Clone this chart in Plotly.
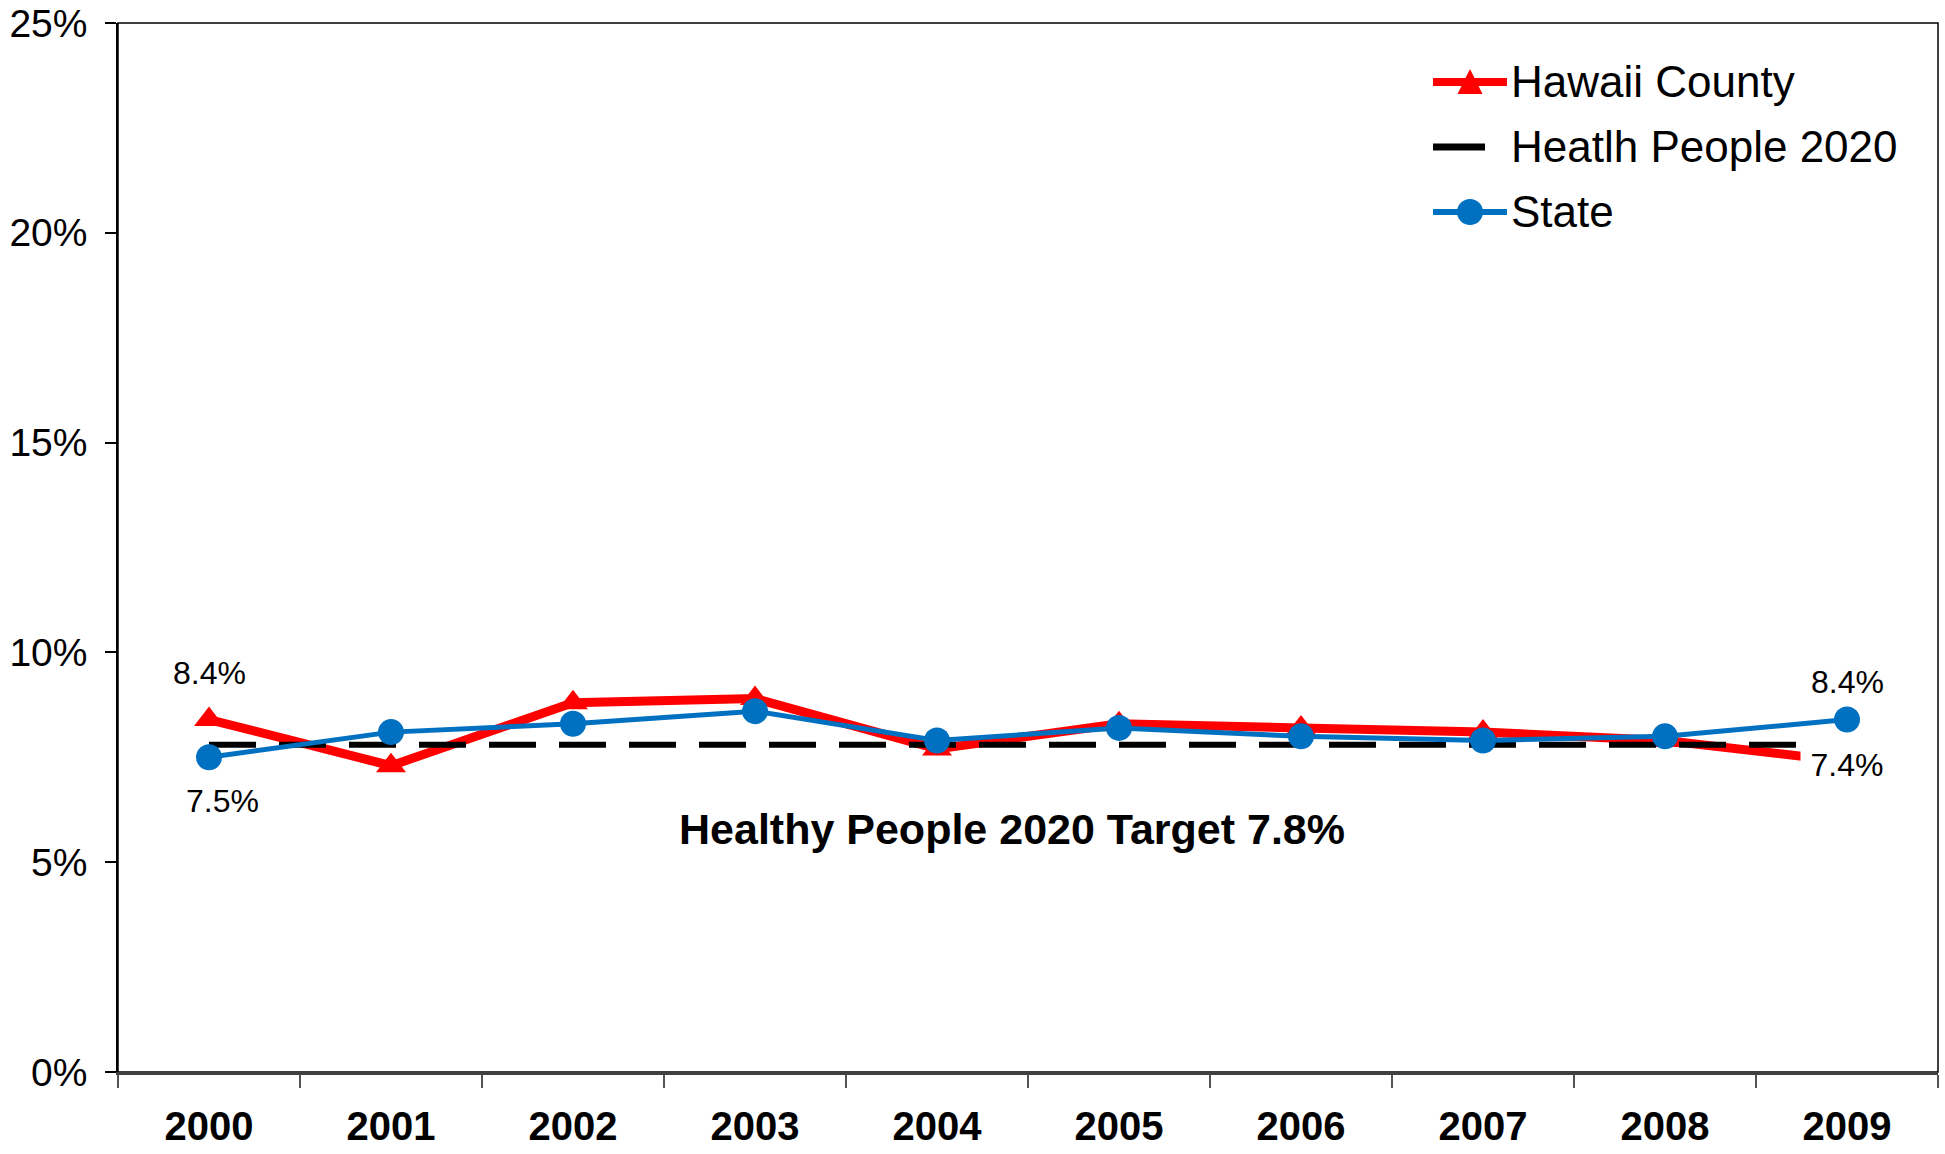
import plotly.graph_objects as go

years = ["2000", "2001", "2002", "2003", "2004", "2005", "2006", "2007", "2008", "2009"]
hawaii_county = [8.4, 7.3, 8.8, 8.9, 7.7, 8.3, 8.2, 8.1, 7.9, 7.4]
healthy_people_2020 = [7.8, 7.8, 7.8, 7.8, 7.8, 7.8, 7.8, 7.8, 7.8, 7.8]
state = [7.5, 8.1, 8.3, 8.6, 7.9, 8.2, 8.0, 7.9, 8.0, 8.4]
y_ticks = [0, 5, 10, 15, 20, 25]
series_names = ["Hawaii County", "Heatlh People 2020", "State"]
target_text = "Healthy People 2020 Target 7.8%"

FONT = "Liberation Sans, Arial, sans-serif"
RED, BLACK, BLUE = "#FF0000", "#000000", "#0070C0"

W, H = 1945, 1154
ML, MR, MT, MB = 118, 7, 23, 82
PW, PH = W - ML - MR, H - MT - MB


def px2paper(px, py):
    return (px - ML) / PW, (H - MB - py) / PH


fig = go.Figure()
fig.add_trace(go.Scatter(
    x=years, y=hawaii_county, name=series_names[0], mode="lines+markers",
    line=dict(color=RED, width=9),
    marker=dict(symbol="triangle-up", size=26, color=RED),
))
fig.add_trace(go.Scatter(
    x=years, y=healthy_people_2020, name=series_names[1], mode="lines",
    line=dict(color=BLACK, width=6, dash="47px,23px"),
))
fig.add_trace(go.Scatter(
    x=years, y=state, name=series_names[2], mode="lines+markers",
    line=dict(color=BLUE, width=5),
    marker=dict(symbol="circle", size=26, color=BLUE),
))

first = 0
last = len(years) - 1
lab_font = dict(family=FONT, size=32, color="black")
annotations = [
    dict(x=first, y=hawaii_county[first], text=f"{hawaii_county[first]:.1f}%", showarrow=False,
         yshift=47, font=lab_font),
    dict(x=first, y=state[first], text=f"{state[first]:.1f}%", showarrow=False,
         xshift=13, yshift=-44, font=lab_font),
    dict(x=last, y=state[last], text=f"{state[last]:.1f}%", showarrow=False,
         yshift=38, font=lab_font),
    dict(x=last, y=hawaii_county[last], text=f"{hawaii_county[last]:.1f}%", showarrow=False,
         yshift=-3, font=lab_font, bgcolor="white", width=90, height=48),
    dict(xref="paper", yref="y", x=0.491, y=5.8, text=target_text, showarrow=False,
         font=dict(family=FONT, size=43, color="black", weight="bold")),
]

# manual legend (wide symbols like the reference)
shapes = [dict(type="rect", xref="paper", yref="paper", x0=0, x1=1, y0=0, y1=1,
               line=dict(color="black", width=1.5), layer="below")]
leg_rows = [82, 147, 212]
leg_x0, leg_x1, leg_mid, leg_text = 1433, 1507, 1470, 1509
leg_colors = [RED, BLACK, BLUE]
for i, (name, col, ry) in enumerate(zip(series_names, leg_colors, leg_rows)):
    x_end = leg_x1 if i != 1 else 1485
    lw = 8 if i == 0 else (7 if i == 1 else 6)
    a0 = px2paper(leg_x0, ry)
    a1 = px2paper(x_end, ry)
    shapes.append(dict(type="line", xref="paper", yref="paper", x0=a0[0], y0=a0[1],
                       x1=a1[0], y1=a1[1], line=dict(color=col, width=lw), layer="above"))
    t = px2paper(leg_text, ry)
    annotations.append(dict(xref="paper", yref="paper", x=t[0], y=t[1], xanchor="left",
                            yanchor="middle", text=name, showarrow=False,
                            font=dict(family=FONT, size=44, color="black")))
    if i == 0:
        p1 = px2paper(leg_mid - 12.5, ry + 12)
        p2 = px2paper(leg_mid + 12.5, ry + 12)
        p3 = px2paper(leg_mid, ry - 13)
        shapes.append(dict(type="path", xref="paper", yref="paper",
                           path=f"M{p1[0]},{p1[1]} L{p2[0]},{p2[1]} L{p3[0]},{p3[1]} Z",
                           fillcolor=col, line=dict(width=0), layer="above"))
    if i == 2:
        c0 = px2paper(leg_mid - 13, ry + 13)
        c1 = px2paper(leg_mid + 13, ry - 13)
        shapes.append(dict(type="circle", xref="paper", yref="paper", x0=c0[0], y0=c0[1],
                           x1=c1[0], y1=c1[1], fillcolor=col, line=dict(width=0),
                           layer="above"))

fig.update_layout(
    width=W, height=H,
    margin=dict(l=ML, r=MR, t=MT, b=MB),
    paper_bgcolor="white", plot_bgcolor="white",
    font=dict(family=FONT, color="black"),
    annotations=annotations,
    showlegend=False,
    shapes=shapes,
)
fig.update_xaxes(
    type="category", range=[-0.5, 9.5], tickson="boundaries",
    ticks="outside", ticklen=13, tickcolor="#555555", tickwidth=1.5,
    showline=True, linecolor="#404040", linewidth=2.5,
    showgrid=False, zeroline=False, automargin=False,
    tickfont=dict(family=FONT, size=40, color="black", weight="bold"),
    ticklabelstandoff=17,
)
fig.update_yaxes(
    range=[0, 25], tickvals=y_ticks, ticktext=[f"{v}%" for v in y_ticks],
    ticks="outside", ticklen=11, tickcolor="black", tickwidth=1.5,
    showline=True, linecolor="black", linewidth=1.5,
    showgrid=False, zeroline=False, automargin=False,
    tickfont=dict(family=FONT, size=39, color="black"),
    ticklabelstandoff=10,
)

fig.write_html("out.html", config={"displayModeBar": False},
               post_script="document.body.style.margin='0';")
